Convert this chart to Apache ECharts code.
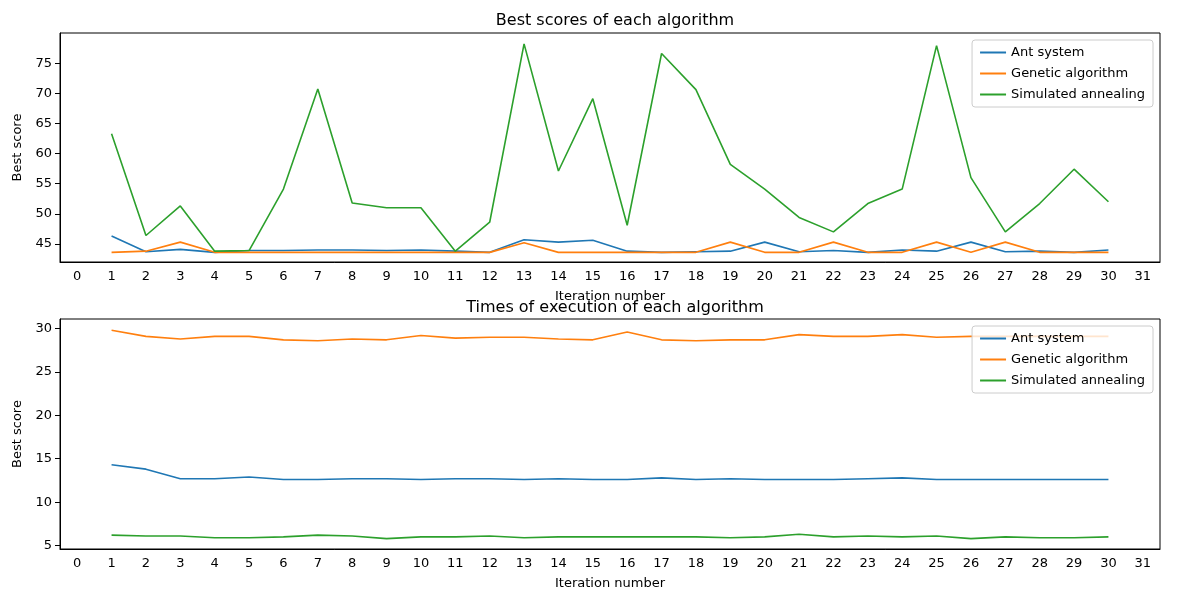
<!DOCTYPE html>
<html lang="en">
<head>
    <meta charset="UTF-8">
    <title>Algorithms</title>
    <script src="https://cdn.jsdelivr.net/npm/echarts@6/dist/echarts.min.js"></script>
</head>
<body style="margin:0">
<div id="main" style="width:1200px;height:600px;"></div>
<script>
    var iterations = [];
    for (var i = 0; i <= 31; i++) iterations.push(String(i));

    // best scores (iterations 1..30)
    var antScores = [46.3,43.7,44.1,43.6,43.9,43.9,44.0,44.0,43.9,44.0,43.8,43.6,45.7,45.3,45.6,43.8,43.6,43.7,43.8,45.3,43.7,43.9,43.6,44.0,43.8,45.3,43.7,43.8,43.6,44.0];
    var genScores = [43.6,43.8,45.3,43.6,43.6,43.6,43.6,43.6,43.6,43.6,43.6,43.6,45.2,43.6,43.6,43.6,43.6,43.6,45.3,43.6,43.6,45.3,43.6,43.6,45.3,43.6,45.3,43.6,43.6,43.6];
    var saScores = [63.3,46.4,51.3,43.8,43.9,54.1,70.7,51.8,51.0,51.0,43.8,48.6,78.2,57.1,69.1,48.1,76.6,70.6,58.2,54.1,49.4,47.0,51.7,54.1,77.9,56.0,47.0,51.7,57.4,52.0];

    // execution times
    var antTimes = [14.3,13.8,12.7,12.7,12.9,12.6,12.6,12.7,12.7,12.6,12.7,12.7,12.6,12.7,12.6,12.6,12.8,12.6,12.7,12.6,12.6,12.6,12.7,12.8,12.6,12.6,12.6,12.6,12.6,12.6];
    var genTimes = [29.8,29.1,28.8,29.1,29.1,28.7,28.6,28.8,28.7,29.2,28.9,29.0,29.0,28.8,28.7,29.6,28.7,28.6,28.7,28.7,29.3,29.1,29.1,29.3,29.0,29.1,29.1,29.1,29.1,29.1];
    var saTimes = [6.2,6.1,6.1,5.9,5.9,6.0,6.2,6.1,5.8,6.0,6.0,6.1,5.9,6.0,6.0,6.0,6.0,6.0,5.9,6.0,6.3,6.0,6.1,6.0,6.1,5.8,6.0,5.9,5.9,6.0];

    var names = ['Ant system', 'Genetic algorithm', 'Simulated annealing'];
    var colors = ['#1f77b4', '#ff7f0e', '#2ca02c'];

    function pad(arr) { return [null].concat(arr).concat([null]); }

    var axisText = {color: '#000', fontSize: 13, fontFamily: 'DejaVu Sans'};

    function xAxisFor(idx) {
        return {
            type: 'category', gridIndex: idx, data: iterations, boundaryGap: true,
            name: 'Iteration number', nameLocation: 'middle', nameGap: 28,
            nameTextStyle: axisText,
            axisLine: {lineStyle: {color: '#000'}},
            axisTick: {alignWithLabel: true, length: 5, lineStyle: {color: '#000'}},
            axisLabel: Object.assign({interval: 0, margin: 8}, axisText),
            splitLine: {show: false}
        };
    }
    function yAxisFor(idx, min, max, split) {
        return {
            type: 'value', gridIndex: idx, min: min, max: max, splitNumber: split,
            name: 'Best score', nameLocation: 'middle', nameGap: 36,
            nameTextStyle: axisText,
            axisLine: {show: true, lineStyle: {color: '#000'}},
            axisTick: {show: true, length: 5, lineStyle: {color: '#000'}},
            axisLabel: Object.assign({showMinLabel: false, showMaxLabel: false}, axisText),
            splitLine: {show: false}
        };
    }
    function lines(datas, idx) {
        return datas.map(function (d, k) {
            return {
                name: names[k], type: 'line', xAxisIndex: idx, yAxisIndex: idx,
                data: pad(d), symbol: 'none', color: colors[k],
                lineStyle: {width: 1.6}
            };
        });
    }
    function legendFor(top) {
        return {
            data: names, orient: 'vertical', right: 47, top: top,
            itemWidth: 26, itemHeight: 2, itemGap: 8,
            icon: 'rect', backgroundColor: 'rgba(255,255,255,0.8)',
            borderColor: '#ccc', borderWidth: 1, borderRadius: 3, padding: [6, 8, 6, 8],
            textStyle: {color: '#000', fontSize: 13, fontFamily: 'DejaVu Sans'}
        };
    }

    var myChart = echarts.init(document.getElementById('main'));
    var option = {
        animation: false,
        title: [
            {text: 'Best scores of each algorithm', left: 610, top: 8, textAlign: 'center',
             textStyle: {fontSize: 16, fontWeight: 'normal', color: '#000', fontFamily: 'DejaVu Sans'}},
            {text: 'Times of execution of each algorithm', left: 610, top: 295, textAlign: 'center',
             textStyle: {fontSize: 16, fontWeight: 'normal', color: '#000', fontFamily: 'DejaVu Sans'}}
        ],
        legend: [legendFor(40), legendFor(326)],
        grid: [
            {left: 60, right: 40, top: 33, height: 229, show: true, borderColor: '#000', borderWidth: 1},
            {left: 60, right: 40, top: 319, height: 230, show: true, borderColor: '#000', borderWidth: 1}
        ],
        xAxis: [xAxisFor(0), xAxisFor(1)],
        yAxis: [yAxisFor(0, 42, 80, 8), yAxisFor(1, 4.6, 31.1, 6)],
        series: lines([antScores, genScores, saScores], 0).concat(lines([antTimes, genTimes, saTimes], 1))
    };
    myChart.setOption(option);
</script>
</body>
</html>
